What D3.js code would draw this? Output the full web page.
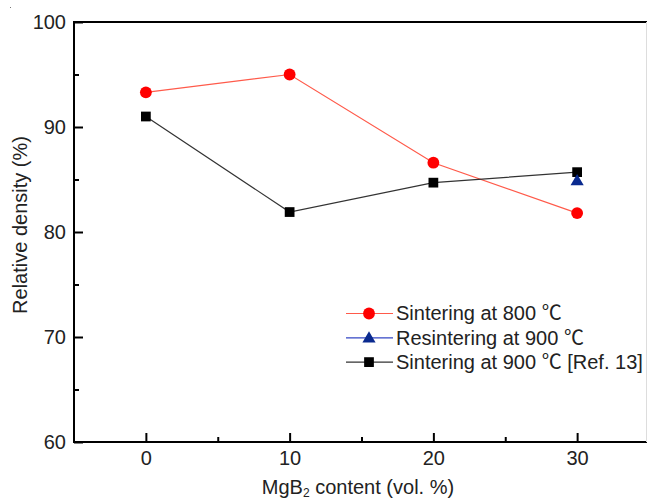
<!DOCTYPE html>
<html><head><meta charset="utf-8">
<script src="https://cdn.jsdelivr.net/npm/d3@7"></script>
<style>body{margin:0;background:#fff}svg{display:block}text{font-family:"Liberation Sans",Arial,sans-serif;fill:#222}</style>
</head><body><svg id="c" width="647" height="498"></svg>
<script>
const xValues = [0, 10, 20, 30];
const sinter800 = [93.3, 95.0, 86.6, 81.8];
const sinter900Ref = [91.0, 81.9, 84.7, 85.7];
const resinterX = [30];
const resinter900 = [84.9];
const xTicks = [0, 10, 20, 30];
const yTicks = [60, 70, 80, 90, 100];
const legendLabels = [["Sintering at 800 ", ""], ["Resintering at 900 ", ""], ["Sintering at 900 ", " [Ref. 13]"]];

const svg = d3.select("#c");
const x = d3.scaleLinear().domain([-5, 35]).range([74, 649]);
const y = d3.scaleLinear().domain([60, 100]).range([442, 22]);

svg.append("rect").attr("x",10).attr("y",7).attr("width",1).attr("height",1).attr("fill","#777");

const xAxis = svg.append("g").attr("transform",`translate(0,${y(60)})`)
  .call(d3.axisBottom(x).tickValues(xTicks).tickSizeInner(-9).tickSizeOuter(0).tickPadding(9).tickFormat(d3.format("d")));
xAxis.select(".domain").remove();
xAxis.selectAll(".tick line").attr("stroke","#000").attr("stroke-width",2);
xAxis.selectAll(".tick text").attr("font-size",20).attr("fill","#222");
const xMinor = svg.append("g").attr("transform",`translate(0,${y(60)})`)
  .call(d3.axisBottom(x).tickValues([5,15,25]).tickSizeInner(-5).tickSizeOuter(0).tickFormat(""));
xMinor.select(".domain").remove();
xMinor.selectAll(".tick line").attr("stroke","#000").attr("stroke-width",2);

const yAxis = svg.append("g").attr("transform",`translate(${x(-5)},0)`)
  .call(d3.axisLeft(y).tickValues(yTicks).tickSizeInner(-9).tickSizeOuter(0).tickPadding(8).tickFormat(d3.format("d")));
yAxis.select(".domain").remove();
yAxis.selectAll(".tick line").attr("stroke","#000").attr("stroke-width",2);
yAxis.selectAll(".tick text").attr("font-size",20).attr("fill","#222");
const yMinor = svg.append("g").attr("transform",`translate(${x(-5)},0)`)
  .call(d3.axisLeft(y).tickValues([65,75,85,95]).tickSizeInner(-5).tickSizeOuter(0).tickFormat(""));
yMinor.select(".domain").remove();
yMinor.selectAll(".tick line").attr("stroke","#000").attr("stroke-width",2);

svg.append("line").attr("x1",x(-5)).attr("x2",647).attr("y1",y(60)).attr("y2",y(60)).attr("stroke","#000").attr("stroke-width",2);
svg.append("line").attr("x1",x(-5)).attr("x2",647).attr("y1",y(100)).attr("y2",y(100)).attr("stroke","#000").attr("stroke-width",2);
svg.append("line").attr("x1",x(-5)).attr("x2",x(-5)).attr("y1",y(100)-1).attr("y2",y(60)+1).attr("stroke","#000").attr("stroke-width",2);
svg.append("line").attr("x1",646.5).attr("x2",646.5).attr("y1",y(100)).attr("y2",y(60)).attr("stroke","#ddd").attr("stroke-width",1);

const line = d3.line().x(d=>x(d[0])).y(d=>y(d[1]));
const redPts = xValues.map((v,i)=>[v,sinter800[i]]);
const blkPts = xValues.map((v,i)=>[v,sinter900Ref[i]]);
svg.append("path").attr("d",line(redPts)).attr("fill","none").attr("stroke","#ff5a4a").attr("stroke-width",1.2);
svg.append("path").attr("d",line(blkPts)).attr("fill","none").attr("stroke","#333").attr("stroke-width",1.2);

const sym = {
  circle: d3.symbol().type(d3.symbolCircle).size(110),
  square: d3.symbol().type(d3.symbolSquare).size(95),
  tri: d3.symbol().type(d3.symbolTriangle).size(75)
};
svg.selectAll(".blk").data(blkPts).join("path").attr("d",sym.square())
  .attr("transform",d=>`translate(${x(d[0])},${y(d[1])})`).attr("fill","#000");
svg.selectAll(".red").data(redPts).join("path").attr("d",sym.circle())
  .attr("transform",d=>`translate(${x(d[0])},${y(d[1])})`).attr("fill","#ff0000");
svg.selectAll(".blu").data(resinterX.map((v,i)=>[v,resinter900[i]])).join("path").attr("d",sym.tri())
  .attr("transform",d=>`translate(${x(d[0])},${y(d[1])+1})`).attr("fill","#0a2a8f");

const leg = [
  {label:legendLabels[0], line:"#ff5a4a", fill:"#ff0000", s:sym.circle},
  {label:legendLabels[1], line:"#3346c4", fill:"#0a2a8f", s:sym.tri},
  {label:legendLabels[2], line:"#333", fill:"#000", s:sym.square}
];
leg.forEach((d,i)=>{
  const yy = 313.5 + i*24.3;
  svg.append("line").attr("x1",346).attr("x2",393).attr("y1",yy).attr("y2",yy).attr("stroke",d.line).attr("stroke-width",1.2);
  svg.append("path").attr("d",d.s()).attr("transform",`translate(369,${yy + (i===1?1:0)})`).attr("fill",d.fill);
  const t = svg.append("text").attr("x",396).attr("y",yy+6.8).attr("font-size",20).attr("xml:space","preserve");
  t.append("tspan").text(d.label[0]);
  t.append("tspan").attr("font-family","'Noto Sans CJK SC'").text("\u2103");
  if (d.label[1]) t.append("tspan").text(d.label[1]);
});

svg.append("text").attr("x",358).attr("y",494).attr("text-anchor","middle").attr("font-size",20)
  .html('MgB<tspan font-size="12" dy="2.5">2</tspan><tspan dy="-2.5"> content (vol. %)</tspan>');
svg.append("text").attr("transform","translate(27,225) rotate(-90)").attr("text-anchor","middle").attr("font-size",20)
  .text("Relative density (%)");
</script></body></html>
